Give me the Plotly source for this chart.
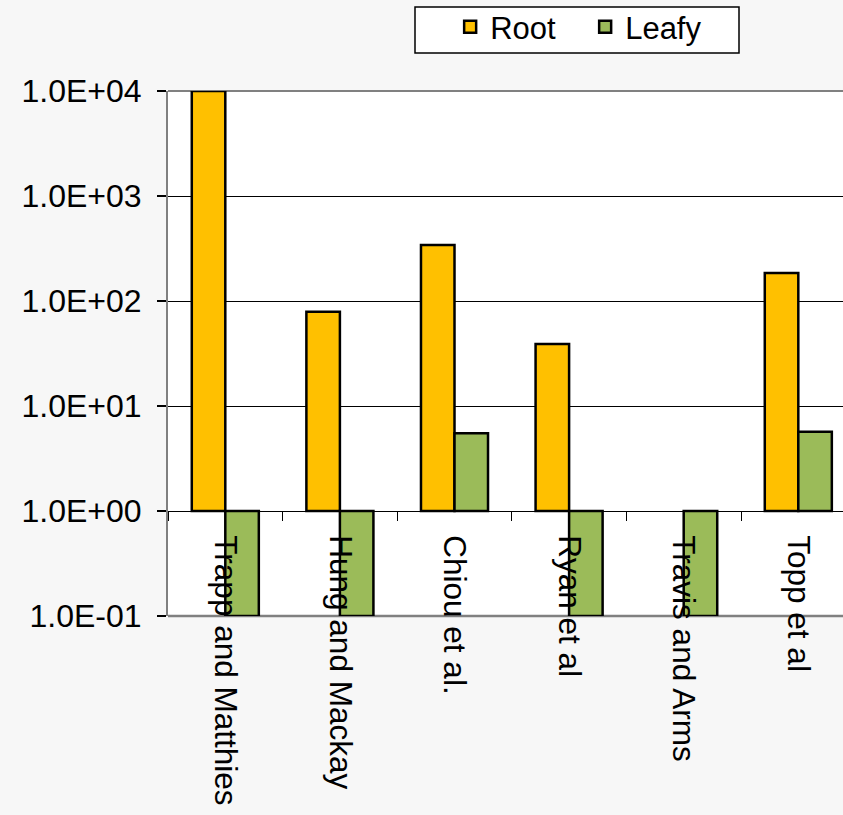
import plotly.graph_objects as go

categories = ["Trapp and Matthies", "Hung and Mackay", "Chiou et al.", "Ryan et al",
              "Travis and Arms", "Topp et al"]
root = [10000, 79, 341, 39, None, 185]
leafy = [0.1, 0.1, 5.5, 0.1, 0.1, 5.7]
baseline = 1.0
tick_vals = [0.1, 1, 10, 100, 1000, 10000]
tick_text = ["1.0E-01", "1.0E+00", "1.0E+01", "1.0E+02", "1.0E+03", "1.0E+04"]

ROOT_C = "#FFC000"
LEAFY_C = "#9BBB59"
FONT = "Arial, Liberation Sans, sans-serif"


def rel(vals):
    return [None if v is None else v - baseline for v in vals]


fig = go.Figure()
fig.add_trace(go.Bar(x=categories, y=rel(root), base=baseline, name="Root",
                     marker=dict(color=ROOT_C, line=dict(color="black", width=2.5))))
fig.add_trace(go.Bar(x=categories, y=rel(leafy), base=baseline, name="Leafy",
                     marker=dict(color=LEAFY_C, line=dict(color="black", width=2.5))))

fig.update_layout(
    width=843, height=815,
    margin=dict(l=168, r=0, t=91, b=199),
    paper_bgcolor="#f7f7f7", plot_bgcolor="white",
    barmode="group", bargap=0.415, bargroupgap=0,
    font=dict(family=FONT, size=31, color="black"),
    showlegend=True,
    legend=dict(orientation="h", x=0.418, xanchor="left", y=1.122, yanchor="middle",
                bgcolor="rgba(0,0,0,0)", borderwidth=0,
                font=dict(family=FONT, size=31, color="black"),
                entrywidth=90, entrywidthmode="pixels"),
    xaxis=dict(anchor="free", position=0.2, type="category", range=[-0.5, 5.39],
               showline=True, linecolor="black", linewidth=1,
               ticks="outside", ticklen=9, tickcolor="black", tickwidth=1,
               tickson="boundaries", tickangle=90, ticklabelstandoff=17,
               showgrid=False, tickfont=dict(family=FONT, size=31.5, color="black")),
    yaxis=dict(type="log", range=[-1, 4], tickvals=tick_vals, ticktext=tick_text,
               showgrid=True, gridcolor="black", gridwidth=1,
               showline=True, linecolor="#808080", linewidth=2,
               ticks="outside", ticklen=9, tickcolor="black", tickwidth=1.5,
               ticklabelstandoff=9, zeroline=False,
               tickfont=dict(family=FONT, size=32, color="black")),
    shapes=[
        dict(type="line", xref="paper", yref="paper", x0=0, x1=1, y0=1, y1=1,
             line=dict(color="#808080", width=2), layer="between"),
        dict(type="line", xref="paper", yref="paper", x0=0, x1=1, y0=0, y1=0,
             line=dict(color="#808080", width=2.5), layer="between"),
        dict(type="rect", xref="paper", yref="paper",
             x0=(415 - 168) / 675, x1=(739 - 168) / 675,
             y0=(616 - 53) / 525, y1=(616 - 7) / 525,
             fillcolor="white", line=dict(color="black", width=1.5), layer="above"),
    ],
)

fig.write_html("out.html")
